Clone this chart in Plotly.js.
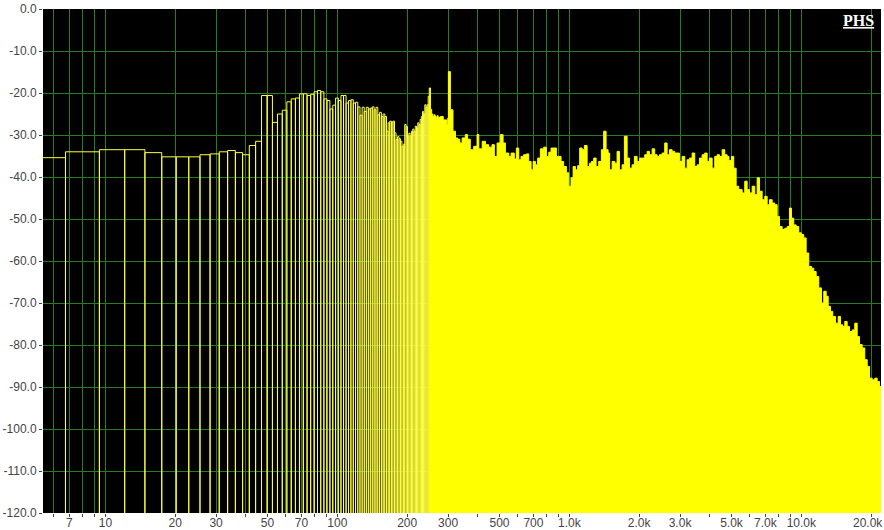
<!DOCTYPE html>
<html>
<head>
<meta charset="utf-8">
<script src="https://cdn.plot.ly/plotly-3.0.1.min.js"></script>
<style>
  html, body { margin: 0; padding: 0; background: #ffffff; }
  #spectrum { width: 884px; height: 530px; }
</style>
</head>
<body>
<div id="spectrum"></div>
<script>
// FFT settings of the analyser (bin spacing = 44100 / 16384 Hz)
var SAMPLE_RATE = 44100;
var FFT_SIZE = 16384;
var FIRST_BIN = 2;

// low end: one value per FFT bin (bins 2 .. 92), dB
var binDb = [
  -35.4, -34.0, -33.5, -33.5, -34.2, -35.2, -35.2, -35.2, -34.7, -34.5,
  -34.0, -33.7, -34.2, -34.7, -32.5, -31.5, -20.6, -20.6, -27.0, -25.0,
  -24.1, -22.1, -21.4, -21.2, -20.2, -20.2, -20.6, -20.3, -19.7, -19.4,
  -19.7, -21.4, -21.8, -23.8, -22.9, -21.2, -21.8, -20.6, -20.6, -22.4,
  -21.8, -21.6, -22.4, -22.2, -23.3, -25.3, -23.4, -24.4, -23.4, -23.8,
  -23.6, -23.3, -24.0, -23.4, -25.2, -24.6, -25.6, -25.0, -25.6, -29.1,
  -27.1, -26.7, -26.9, -26.7, -29.5, -31.1, -30.4, -30.9, -31.5, -32.7,
  -32.2, -27.5, -28.0, -30.3, -29.6, -30.3, -29.1, -28.6, -29.1, -27.9,
  -28.3, -27.1, -27.5, -26.3, -25.6, -24.4, -25.0, -22.8, -23.4, -22.8,
  -20.8
];

// upper range: bins are about a pixel wide or less, so the top edge is read as an envelope
var envHz = [
  249, 252, 255, 258, 261, 264, 266, 269, 272, 274, 277,
  278, 286, 296, 299, 301, 305, 307, 315, 323, 330, 337, 345, 356, 364, 374,
  387, 400, 407, 421, 435, 449, 464, 475, 488, 504, 518, 530, 548, 561, 579,
  591, 605, 619, 635, 653, 668, 684, 698, 714, 730, 750, 775, 796, 815, 834,
  856, 879, 900, 921, 945, 971, 994, 1017, 1038, 1062, 1086, 1108, 1135, 1161,
  1193, 1220, 1245, 1273, 1304, 1338, 1374, 1406, 1440, 1469, 1492, 1529, 1569,
  1606, 1643, 1688, 1727, 1774, 1815, 1864, 1907, 1959, 2010, 2059, 2113, 2164,
  2214, 2274, 2333, 2390, 2445, 2511, 2577, 2639, 2700, 2773, 2846, 2914, 2982,
  3063, 3143, 3219, 3293, 3383, 3471, 3555, 3637, 3736, 3833, 3926, 4016, 4126,
  4233, 4336, 4436, 4556, 4675, 4788, 4874, 4997, 5112, 5236, 5373, 5557, 5702,
  5840, 5975, 6137, 6298, 6450, 6599, 6778, 6955, 7123, 7287, 7486, 7681, 7866,
  8048, 8267, 8483, 8688, 8888, 9067, 9276, 9500, 9748, 10013, 10244, 10492,
  10766, 11058, 11313, 11586, 11889, 12213, 12495, 12796, 13053, 13354, 13662,
  14033, 14415, 14748, 15089, 15391, 15762, 16126, 16565, 16998, 17408, 17810,
  18294, 18772, 19225, 19669, 20204, 20732, 21232, 21722, 22050
];
var envDb = [
  -18.8, -23.9, -25.0, -25.6, -25.2, -25.6, -25.8, -25.4, -26.0, -25.8, -26.2,
  -25.6, -26.4, -27.5, -26.0, -14.9, -14.9, -24.0, -29.1, -30.7, -31.0, -31.9, -30.7, -29.9, -31.0, -33.5,
  -32.7, -29.9, -33.3, -31.5, -32.3, -32.9, -32.3, -35.1, -31.9, -29.9, -31.9, -34.3, -35.1, -34.3, -35.7,
  -33.1, -35.9, -35.1, -34.7, -34.5, -36.3, -38.3, -36.3, -37.1, -35.5, -33.3, -32.9, -35.1, -34.1, -33.1,
  -33.1, -35.1, -35.1, -36.3, -37.5, -39.0, -42.2, -40.2, -37.5, -38.3, -37.3, -33.1, -33.5, -32.5,
  -37.5, -36.7, -36.3, -35.5, -37.5, -36.3, -33.5, -29.1, -33.5, -34.3, -38.3, -36.3, -36.7,
  -33.9, -38.3, -37.1, -30.3, -35.5, -37.9, -37.1, -35.1, -36.3, -35.5, -35.5, -34.7, -33.9,
  -34.7, -33.3, -34.7, -35.1, -34.7, -34.3, -31.9, -34.7, -33.5, -33.9, -34.3, -34.3, -36.3,
  -35.1, -37.9, -35.9, -35.5, -34.3, -37.5, -37.1, -35.5, -34.7, -34.3, -36.3, -35.5, -37.9,
  -35.1, -34.7, -35.1, -33.5, -34.7, -35.1, -36.1, -35.1, -37.9, -42.2, -43.0, -43.8, -41.0,
  -43.0, -43.8, -42.2, -44.2, -40.2, -43.4, -45.4, -44.6, -46.6, -45.4, -46.2, -46.6, -49.4,
  -51.8, -52.5, -52.2, -51.8, -47.4, -49.8, -51.4, -51.8, -53.3, -53.7, -54.5, -58.1,
  -61.3, -61.7, -62.5, -63.7, -66.4, -70.0, -67.2, -68.4, -70.8, -72.0, -73.2,
  -74.8, -73.2, -75.2, -75.6, -74.4, -75.6, -76.8, -76.4, -74.8, -78.0, -79.9,
  -80.7, -83.5, -85.1, -87.9, -88.3, -87.9, -88.7, -89.9, -90.2
];

// the last label (20.0k) sits at the right edge, so it is drawn as an annotation further down
var freqTicks = [6, 7, 8, 9, 10, 20, 30, 40, 50, 60, 70, 80, 90, 100,
  200, 300, 400, 500, 600, 700, 800, 900, 1000,
  2000, 3000, 4000, 5000, 6000, 7000, 8000, 9000, 10000, 20000];
var freqLabels = ['', '7', '', '', '10', '20', '30', '', '50', '', '70', '', '', '100',
  '200', '300', '', '500', '', '700', '', '', '1.0k',
  '2.0k', '3.0k', '', '5.0k', '', '7.0k', '', '', '10.0k', ''];
var edgeTickHz = 20000;
var edgeTickLabel = '20.0k';
var dbTicks = [0, -10, -20, -30, -40, -50, -60, -70, -80, -90, -100, -110, -120];

var FLOOR = -120;
var df = SAMPLE_RATE / FFT_SIZE;

// each low bin drawn as an open rectangle
var bx = [], by = [];
binDb.forEach(function (v, i) {
  var k = FIRST_BIN + i;
  var lo = (k - 0.5) * df, hi = (k + 0.5) * df;
  bx.push(lo, lo, hi, hi);
  by.push(FLOOR, v, v, FLOOR);
});

var ex = [envHz[0]].concat(envHz, [envHz[envHz.length - 1]]);
var ey = [FLOOR].concat(envDb, [FLOOR]);

var bins = {
  x: bx, y: by, type: 'scatter', mode: 'lines',
  line: { color: '#ffff40', width: 1 },
  hoverinfo: 'skip'
};
var envelope = {
  x: ex, y: ey, type: 'scatter', mode: 'lines',
  line: { color: '#ffff00', width: 1, shape: 'hv' },
  fill: 'toself', fillcolor: '#ffff00',
  hoverinfo: 'skip'
};

var tickFont = { family: 'Liberation Sans, Arial, sans-serif', size: 12, color: '#444444' };
var GRID = 'rgb(35,125,35)';

var layout = {
  width: 884, height: 530,
  margin: { l: 43, r: 3, t: 9, b: 17 },
  paper_bgcolor: '#ffffff',
  plot_bgcolor: '#000000',
  showlegend: false,
  xaxis: {
    type: 'log',
    range: [Math.log10(2 * df), Math.log10(SAMPLE_RATE / 2)],
    tickmode: 'array', tickvals: freqTicks, ticktext: freqLabels,
    ticks: 'outside', ticklen: 3, tickcolor: '#444444',
    ticklabelstandoff: -4,
    showgrid: true, gridcolor: GRID, gridwidth: 1,
    zeroline: false, showline: false,
    tickfont: tickFont, automargin: false
  },
  yaxis: {
    range: [FLOOR, 0],
    tickmode: 'array', tickvals: dbTicks,
    ticktext: dbTicks.map(function (v) { return v.toFixed(1); }),
    ticks: 'outside', ticklen: 3, tickcolor: '#444444',
    ticklabeloverflow: 'allow',
    showgrid: true, gridcolor: GRID, gridwidth: 1,
    zeroline: false, showline: false,
    tickfont: tickFont, automargin: false
  },
  annotations: [{
    xref: 'paper', yref: 'paper', x: 0.973, y: 0.977,
    xanchor: 'center', yanchor: 'middle',
    text: '<b><u>PHS</u></b>', showarrow: false,
    font: { family: 'Liberation Serif, Times New Roman, serif', size: 16, color: '#ffffff' }
  }, {
    xref: 'x', yref: 'paper', x: Math.log10(edgeTickHz), y: 0,
    xanchor: 'center', yanchor: 'top', xshift: -3, yshift: -2,
    text: edgeTickLabel, showarrow: false, borderpad: 0,
    font: tickFont
  }]
};

Plotly.newPlot('spectrum', [bins, envelope], layout, { staticPlot: true });
</script>
</body>
</html>
